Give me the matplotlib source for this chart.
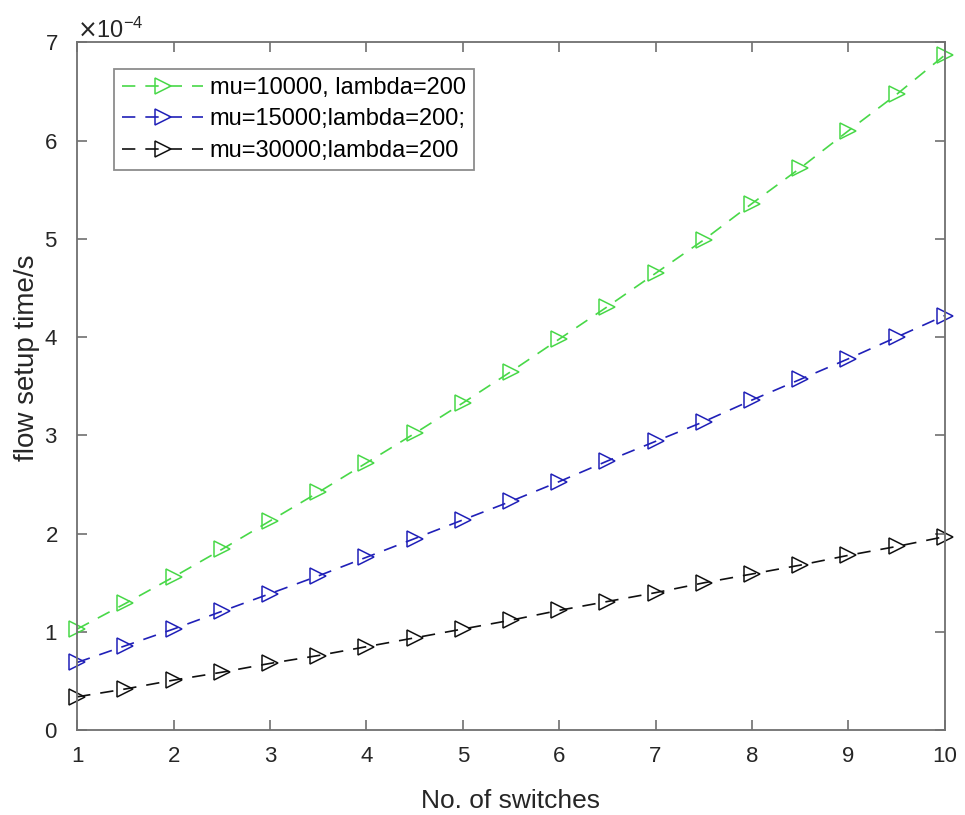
import matplotlib.pyplot as plt
import numpy as np
from matplotlib.ticker import ScalarFormatter

plt.rcParams['font.family'] = ['Liberation Sans', 'DejaVu Sans']

## Data (flow setup time, units of 1e-4 s)
switches = [1, 1.5, 2, 2.5, 3, 3.5, 4, 4.5, 5, 5.5, 6, 6.5, 7, 7.5, 8, 8.5, 9, 9.5, 10]
mu10000 = [1.03, 1.29, 1.56, 1.84, 2.13, 2.42, 2.72, 3.02, 3.33, 3.65, 3.98,
           4.31, 4.65, 4.99, 5.36, 5.72, 6.10, 6.47, 6.87]
mu15000 = [0.69, 0.86, 1.03, 1.21, 1.39, 1.57, 1.76, 1.95, 2.14, 2.33, 2.53,
           2.74, 2.94, 3.14, 3.36, 3.57, 3.78, 4.00, 4.22]
mu30000 = [0.34, 0.42, 0.51, 0.59, 0.68, 0.76, 0.85, 0.94, 1.03, 1.12, 1.22,
           1.31, 1.40, 1.50, 1.59, 1.68, 1.78, 1.87, 1.97]
labels = ['mu=10000, lambda=200', 'mu=15000;lambda=200;', 'mu=30000;lambda=200']

fig = plt.figure(figsize=(9.65, 8.15), dpi=100)
ax = fig.add_axes([0.080, 0.104, 0.899, 0.844])

series = [mu10000, mu15000, mu30000]
colors = ['#48d848', '#2020b8', '#101010']
for ys, c, lab in zip(series, colors, labels):
    ax.plot(switches, np.array(ys) * 1e-4, '--', marker='>', color=c,
            markerfacecolor='none', markersize=11.5, markeredgewidth=1.1,
            linewidth=1.2, dashes=(8, 6), label=lab, clip_on=False)

ax.set_xlim(1, 10)
ax.set_ylim(0, 7e-4)
ax.set_xticks(range(1, 11))
ax.set_yticks(np.arange(0, 8) * 1e-4)

fmt = ScalarFormatter(useMathText=True)
fmt.set_powerlimits((0, 0))
ax.yaxis.set_major_formatter(fmt)
ax.yaxis.get_offset_text().set_fontsize(17)
ax.yaxis.get_offset_text().set_color('#333333')

for s in ax.spines.values():
    s.set_color('#707070')
    s.set_linewidth(1.3)
ax.tick_params(direction='in', top=True, right=True, length=7, width=1.2,
               labelsize=16, colors='#707070', labelcolor='#262626')
ax.tick_params(axis='x', pad=11)
ax.tick_params(axis='y', pad=14)

ax.set_xlabel('No. of switches', fontsize=19, color='#262626', labelpad=16)
ax.set_ylabel('flow setup time/s', fontsize=20, color='#262626')
ax.yaxis.set_label_coords(-0.043, 0.542)

leg = ax.legend(loc='upper left', bbox_to_anchor=(0.029, 0.979), fontsize=17,
                frameon=True, fancybox=False, edgecolor='#707070',
                handlelength=3.4, borderpad=0.35, labelspacing=0.4, handletextpad=0.3)
leg.get_frame().set_linewidth(1.3)

fig.savefig('out.png', dpi=100)
